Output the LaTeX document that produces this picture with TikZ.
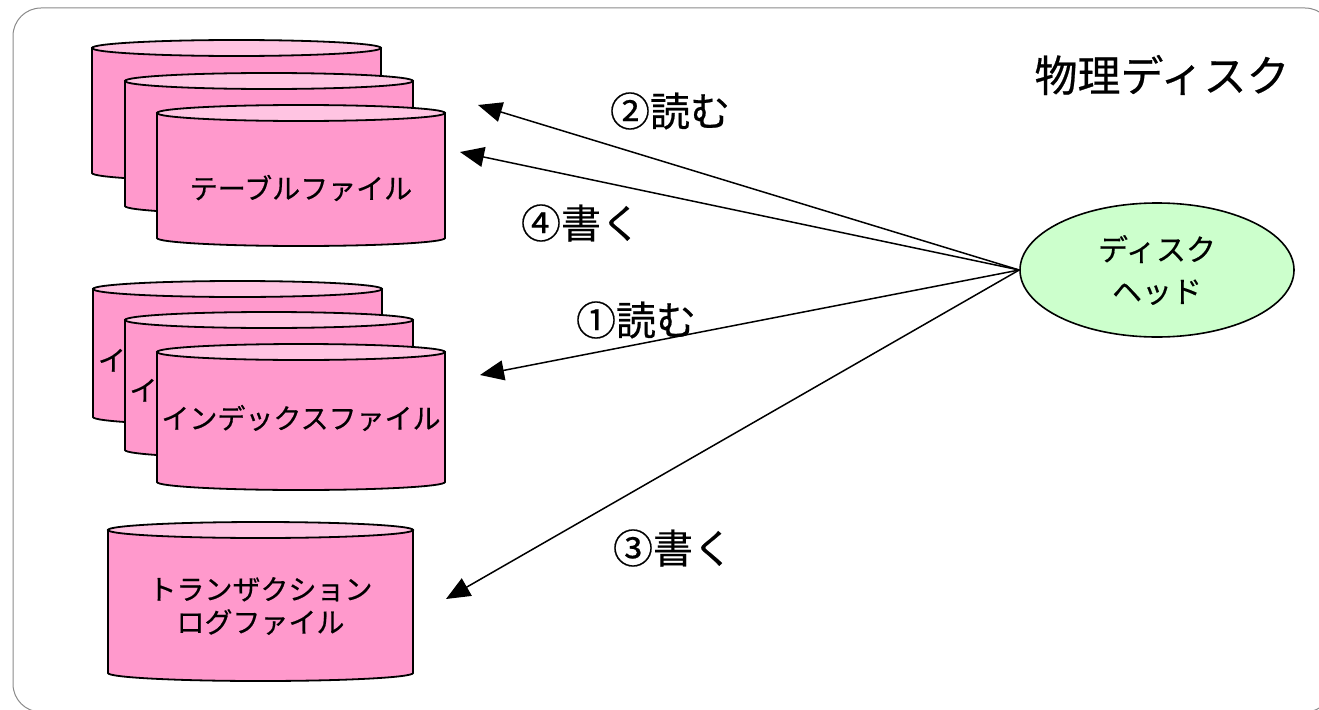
\documentclass[tikz,border=0pt]{standalone}
\usepackage{fontspec}
\newfontfamily\jp[FakeBold=0.5]{Noto Sans CJK JP}
\usetikzlibrary{arrows.meta,shapes.geometric}
\definecolor{cylbody}{HTML}{FF99CC}
\definecolor{cyltop}{HTML}{FFC4E2}
\definecolor{headfill}{HTML}{CCFFCC}
\definecolor{framegray}{HTML}{8A8A8A}
\newcommand\drawcyl[7]{%
  \pgfmathsetmacro\cxr{(#2-#1)/2}%
  \pgfmathsetmacro\cxm{(#2+#1)/2}%
  \filldraw[cylline, fill=cylbody] (#1,#3) -- (#1,#4) arc[start angle=180,end angle=360,x radius=\cxr pt,y radius=8pt] -- (#2,#3) -- cycle;
  \filldraw[cylline, fill=cyltop] (\cxm,#3) ellipse[x radius=\cxr pt, y radius=8pt];
  \node[cyltext] (#5) at (\cxm,#7) {#6};
}
\tikzset{
  cylline/.style={draw=black, line width=1.8pt},
  cyltext/.style={font=\jp\fontsize{28pt}{33pt}\selectfont, inner sep=0pt, align=center},
  lbl/.style={font=\jp\fontsize{40pt}{45pt}\selectfont, inner sep=0pt},
  arr/.style={line width=1.5pt, -{Triangle[length=24pt,width=20pt]}},
  headnode/.style={ellipse, draw=black, line width=1.6pt, fill=headfill, minimum width=274pt, minimum height=134pt, inner sep=0pt, align=center, font=\jp\fontsize{30pt}{42pt}\selectfont}
}
\begin{document}
\begin{tikzpicture}[x=1pt,y=-1pt]
\useasboundingbox (0,0) rectangle (1319,709);
\draw[framegray, line width=1pt, rounded corners=28pt] (13,8) rectangle (1333,712);
% table files
\drawcyl{92}{381}{48}{173}{tf1}{テーブルファイル}{123}
\drawcyl{125}{413}{81}{206}{tf2}{テーブルファイル}{156}
\drawcyl{157}{445}{113}{238}{tf3}{テーブルファイル}{188}
% index files
\drawcyl{93}{382}{289}{417}{if1}{インデックスファイル}{360}
\drawcyl{125}{413}{320}{450}{if2}{インデックスファイル}{390}
\drawcyl{157}{445}{352}{482}{if3}{インデックスファイル}{418}
% transaction log
\drawcyl{108}{413}{530}{673}{lf}{トランザクション\\ログファイル}{606}
% disk head
\node[headnode] (dh) at (1157,270) {ディスク\\ヘッド};
\node[font=\jp\fontsize{43pt}{48pt}\selectfont, inner sep=0pt] (pd) at (1162,75) {物理ディスク};
% arrow end points
\coordinate (t2) at (478,105);
\coordinate (t4) at (460,152);
\coordinate (t1) at (480,375);
\coordinate (t3) at (446,599);
\draw[arr] (dh.west) -- (t2);
\draw[arr] (dh.west) -- (t4);
\draw[arr] (dh.west) -- (t1);
\draw[arr] (dh.west) -- (t3);
\node[lbl] (l2) at (670,111) {②読む};
\node[lbl] (l4) at (581,223) {④書く};
\node[lbl] (l1) at (636,320) {①読む};
\node[lbl] (l3) at (673,548) {③書く};
\end{tikzpicture}
\end{document}
